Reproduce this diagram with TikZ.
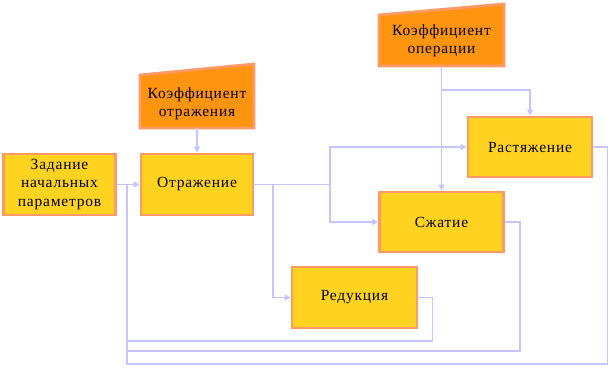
\documentclass[tikz,border=0pt]{standalone}
\usepackage{fontspec}
\setmainfont[LetterSpace=5]{Liberation Serif}
\usetikzlibrary{arrows.meta}
\definecolor{boxfill}{HTML}{FFD320}
\definecolor{boxline}{HTML}{FF9966}
\definecolor{trapfill}{HTML}{FF950E}
\definecolor{conn}{HTML}{C4C4FF}
\tikzset{
  blk/.style={draw=boxline, fill=boxfill, line width=2.8pt, inner sep=0pt, align=center,
    font=\fontsize{15.5}{18.5}\selectfont},
  lbl/.style={inner sep=0pt, align=center, font=\fontsize{15.5}{18.5}\selectfont},
  wire/.style={draw=conn, line width=1.2pt},
  arr/.style={wire, -{Triangle[length=6pt,width=6pt]}},
  trap/.style={draw=boxline, fill=trapfill, line width=2.8pt, line join=miter}
}
\begin{document}
\begin{tikzpicture}[x=1pt,y=-1pt]
\useasboundingbox (0,0) rectangle (616,372);
% trapezoids
\path[trap] (140,128) -- (140,75) -- (254,64) -- (254,128) -- cycle;
\path[trap] (379,66) -- (379,15) -- (504,4) -- (504,66) -- cycle;
\node[lbl, minimum width=114pt, minimum height=53pt] (k1) at (197,101.5) {};
\node[lbl] at (197,104) {Коэффициент\\отражения};
\node[lbl, minimum width=125pt, minimum height=51pt] (k2) at (441.5,40.5) {};
\node[lbl] at (441.5,41) {Коэффициент\\операции};
% blocks
\node[blk, minimum width=112pt, minimum height=61pt] (zad) at (59.5,184.5) {Задание\\начальных\\параметров};
\node[blk, minimum width=112pt, minimum height=61pt] (otr) at (197,184.5) {Отражение};
\node[blk, minimum width=124pt, minimum height=60pt] (ras) at (530,147) {Растяжение};
\node[blk, minimum width=124pt, minimum height=60pt] (szh) at (441.5,222) {Сжатие};
\node[blk, minimum width=125pt, minimum height=61pt] (red) at (354.5,297.5) {Редукция};
% junction coordinates
\coordinate (jin) at (127,184.5);
\coordinate (jout) at (330,184.5);
\coordinate (jred) at (273,184.5);
\coordinate (jop) at (441.5,90);
% connectors
\path[arr] (zad.east) -- (otr.west);
\path[arr] (k1.south) -- (otr.north);
\path[wire] (otr.east) -- (jout);
\path[arr] (jred) |- (red.west);
\path[arr] (jout) |- (ras.west);
\path[arr] (jout) |- (szh.west);
\path[arr] (k2.south) -- (szh.north);
\path[arr] (jop) -| (ras.north);
\path[wire] (ras.east) -- ++(14,0) |- (127,364) -- (jin);
\path[wire] (szh.east) -- ++(15,0) |- (127,351);
\path[wire] (red.east) -- ++(14,0) |- (127,341);
\end{tikzpicture}
\end{document}
